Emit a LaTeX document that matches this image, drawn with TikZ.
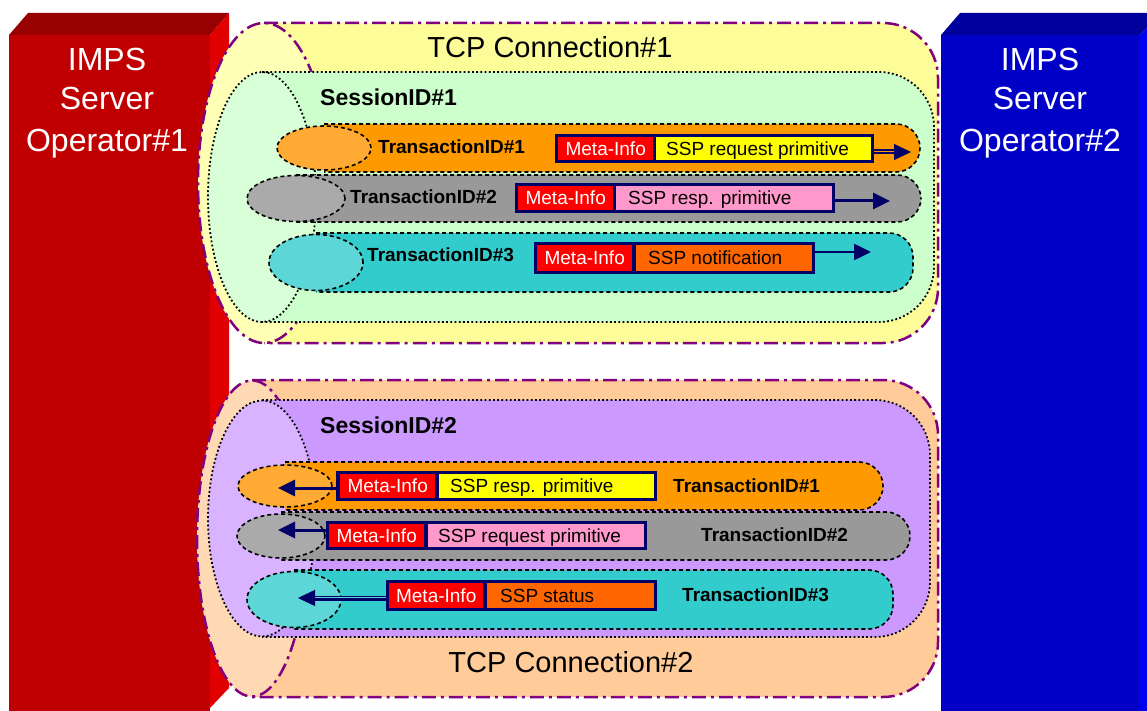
\documentclass[tikz,border=0pt]{standalone}
\usepackage{fontspec}
\setmainfont{Liberation Sans}
\usetikzlibrary{arrows.meta}

% server blocks
\definecolor{srvredfront}{HTML}{C00000}
\definecolor{srvredtop}{HTML}{990000}
\definecolor{srvredside}{HTML}{E00000}
\definecolor{srvbluefront}{HTML}{0000C6}
\definecolor{srvbluetop}{HTML}{00009C}
\definecolor{srvblueside}{HTML}{0000F0}
% connections, sessions, transactions
\definecolor{tcppurple}{HTML}{800080}
\definecolor{tcpyellow}{HTML}{FCFC99}
\definecolor{tcpyellowend}{HTML}{FFFFB5}
\definecolor{tcppeach}{HTML}{FFCC99}
\definecolor{tcppeachend}{HTML}{FFD9B3}
\definecolor{sessgreen}{HTML}{CCFFCC}
\definecolor{sessgreenend}{HTML}{D9FFD9}
\definecolor{sesslilac}{HTML}{CC99FF}
\definecolor{sesslilacend}{HTML}{D9B3FF}
\definecolor{trorange}{HTML}{FF9900}
\definecolor{trorangeend}{HTML}{FFAA33}
\definecolor{trgray}{HTML}{999999}
\definecolor{trgrayend}{HTML}{AAAAAA}
\definecolor{trteal}{HTML}{33CCCC}
\definecolor{trtealend}{HTML}{5CD6D6}
% messages
\definecolor{msgnavy}{HTML}{000066}
\definecolor{msgred}{HTML}{FF0000}
\definecolor{msgyellow}{HTML}{FFFF00}
\definecolor{msgpink}{HTML}{FF99CC}
\definecolor{msgorange}{HTML}{FF6600}

\newcommand\fServer{\fontsize{32}{38}\selectfont}
\newcommand\fTcp{\fontsize{29}{34}\selectfont}
\newcommand\fSess{\fontsize{23}{27}\selectfont\bfseries}
\newcommand\fTrans{\fontsize{19}{22}\selectfont\bfseries}
\newcommand\fMsg{\fontsize{19}{22}\selectfont}

% pipe with an elliptic end on the left and a rounded right end
% #1 kind, #2 body colour, #3 end colour, #4 axis x, #5 top, #6 bottom,
% #7 right edge, #8 end x radius, #9 end y radius
\newcommand\drawpipe[9]{%
  \fill[#2] (#4,#5) [#1 corner] -- (#7,#5) -- (#7,#6) [sharp corners] -- (#4,#6) -- cycle;
  \fill[#3] (#4,{(#5+#6)/2}) ellipse [x radius=#8pt, y radius=#9pt];
  \draw[#1 line] (#4,#5) [#1 corner] -- (#7,#5) -- (#7,#6) [sharp corners] -- (#4,#6);
  \draw[#1 line] (#4,{(#5+#6)/2}) ellipse [x radius=#8pt, y radius=#9pt];
}

\begin{document}
\begin{tikzpicture}[x=1pt,y=-1pt,
  tcp corner/.style={rounded corners=55pt},
  sess corner/.style={rounded corners=55pt},
  trans corner/.style={rounded corners=24pt},
  tcp line/.style={draw=tcppurple, line width=2.5pt, dash pattern=on 14pt off 5pt on 3pt off 5pt},
  sess line/.style={draw=black, line width=1.8pt, dash pattern=on 1.8pt off 2.4pt},
  trans line/.style={draw=black, line width=1.6pt, dash pattern=on 4pt off 3pt},
  msgframe/.style={fill=msgnavy, inner sep=0pt},
  metafill/.style={fill=msgred, inner sep=0pt, anchor=west},
  partfill/.style={inner sep=0pt, anchor=west},
  metatext/.style={text=white, font=\fMsg, inner sep=0pt},
  parttext/.style={text=black, font=\fMsg, inner sep=0pt, anchor=base west},
  serverlabel/.style={text=white, font=\fServer, inner sep=0pt, anchor=base},
  tcplabel/.style={text=black, font=\fTcp, inner sep=0pt, anchor=base},
  sesslabel/.style={text=black, font=\fSess, inner sep=0pt, anchor=base west},
  translabel/.style={text=black, font=\fTrans, inner sep=0pt, anchor=west},
  shaft/.style={draw=msgnavy, line width=3pt, -{Triangle[length=17pt,width=16pt]}},
  dshaft/.style={draw=msgnavy, line width=1.5pt, double distance=2pt},
  tiponly/.style={draw=msgnavy, line width=0.4pt, -{Triangle[length=17pt,width=16pt]}},
]
\useasboundingbox (0,0) rectangle (1147,711);
\fill[white] (0,0) rectangle (1147,711);

% ---- server blocks ----
\fill[srvredfront] (9,35) -- (210,35) -- (210,711) -- (9,711) -- cycle;
\fill[srvredtop] (9,35) -- (28,13) -- (229,13) -- (210,35) -- cycle;
\fill[srvredside] (210,35) -- (229,13) -- (229,688) -- (210,708) -- cycle;

\fill[srvbluefront] (941,35) -- (1140,35) -- (1140,711) -- (941,711) -- cycle;
\fill[srvbluetop] (941,35) -- (960,13) -- (1147,13) -- (1147,28) -- (1140,35) -- cycle;
\fill[srvblueside] (1140,35) -- (1147,28) -- (1147,711) -- (1140,711) -- cycle;

\node[serverlabel] (srvAa) at (107,71) {IMPS};
\node[serverlabel] (srvAb) at (107,110) {Server};
\node[serverlabel] (srvAc) at (107,152) {Operator\#1};
\node[serverlabel] (srvBa) at (1040,71) {IMPS};
\node[serverlabel] (srvBb) at (1040,110) {Server};
\node[serverlabel] (srvBc) at (1040,152) {Operator\#2};

% ---- TCP connection 1 ----
\drawpipe{tcp}{tcpyellow}{tcpyellowend}{264}{23}{343}{938}{66}{160}
\drawpipe{sess}{sessgreen}{sessgreenend}{262}{72}{322}{934}{54}{125}
\drawpipe{trans}{trorange}{trorangeend}{324}{124}{172}{920}{47}{22}
\drawpipe{trans}{trgray}{trgrayend}{296}{175}{222}{921}{49}{23}
\drawpipe{trans}{trteal}{trtealend}{316}{233}{292}{913}{47}{28}

\node[tcplabel] (tcpA) at (550,58) {TCP Connection\#1};
\node[sesslabel] (sessA) at (320,106) {SessionID\#1};
\node[translabel] (trA1) at (378,147) {TransactionID\#1};
\node[translabel] (trA2) at (350,197) {TransactionID\#2};
\node[translabel] (trA3) at (367,255) {TransactionID\#3};

% request primitive
\node[msgframe, minimum width=319pt, minimum height=29pt] (mfA1) at (714.5,148.5) {};
\node[metafill, minimum width=95pt, minimum height=23pt] (mmA1) at (558,148.5) {};
\node[partfill, fill=msgyellow, minimum width=215pt, minimum height=23pt] (mpA1) at (656,148.5) {};
\node[metatext] (mtA1) at (mmA1.center) {Meta-Info};
\node[parttext] (ptA1) at ([xshift=10pt,yshift=-6.8pt]mpA1.west) {SSP request primitive};
\coordinate (tipA1) at (911,152);
\coordinate (hbA1) at (895,152);
\draw[dshaft, double=trorange] (mfA1.east |- tipA1) -- (hbA1);
\draw[tiponly] (mfA1.east |- tipA1) -- (tipA1);

% response primitive
\node[msgframe, minimum width=320pt, minimum height=30pt] (mfA2) at (675,198) {};
\node[metafill, minimum width=95pt, minimum height=24pt] (mmA2) at (518,198) {};
\node[partfill, fill=msgpink, minimum width=216pt, minimum height=24pt] (mpA2) at (616,198) {};
\node[metatext] (mtA2) at (mmA2.center) {Meta-Info};
\node[parttext] (ptA2) at ([xshift=12pt,yshift=-6.8pt]mpA2.west) {SSP resp. primitive};
\coordinate (tipA2) at (890,201);
\draw[shaft] (mfA2.east |- tipA2) -- (tipA2);

% notification
\node[msgframe, minimum width=281pt, minimum height=32pt] (mfA3) at (674.5,258) {};
\node[metafill, minimum width=95pt, minimum height=26pt] (mmA3) at (537,258) {};
\node[partfill, fill=msgorange, minimum width=176pt, minimum height=26pt] (mpA3) at (636,258) {};
\node[metatext] (mtA3) at (mmA3.center) {Meta-Info};
\node[parttext] (ptA3) at ([xshift=12pt,yshift=-6.8pt]mpA3.west) {SSP notification};
\coordinate (tipA3) at (871,252);
\draw[shaft, line width=2.5pt] (mfA3.east |- tipA3) -- (tipA3);

% ---- TCP connection 2 ----
\drawpipe{tcp}{tcppeach}{tcppeachend}{252}{380}{697}{938}{55}{158}
\drawpipe{sess}{sesslilac}{sesslilacend}{262}{400}{637}{930}{54}{118}
\drawpipe{trans}{trorange}{trorangeend}{285}{462}{510}{883}{47}{21}
\drawpipe{trans}{trgray}{trgrayend}{281}{512}{560}{910}{44}{22}
\drawpipe{trans}{trteal}{trtealend}{294}{570}{629}{893}{47}{28}

\node[tcplabel] (tcpB) at (571,672) {TCP Connection\#2};
\node[sesslabel] (sessB) at (320,433) {SessionID\#2};
\node[translabel] (trB1) at (673,486) {TransactionID\#1};
\node[translabel] (trB2) at (701,535) {TransactionID\#2};
\node[translabel] (trB3) at (682,595) {TransactionID\#3};

% response primitive
\node[msgframe, minimum width=321pt, minimum height=30pt] (mfB1) at (496.5,486) {};
\node[metafill, minimum width=95pt, minimum height=24pt] (mmB1) at (340,486) {};
\node[partfill, fill=msgyellow, minimum width=215pt, minimum height=24pt] (mpB1) at (439,486) {};
\node[metatext] (mtB1) at (mmB1.center) {Meta-Info};
\node[parttext] (ptB1) at ([xshift=11pt,yshift=-6.8pt]mpB1.west) {SSP resp. primitive};
\coordinate (tipB1) at (278,488);
\draw[shaft] (mfB1.west |- tipB1) -- (tipB1);

% request primitive
\node[msgframe, minimum width=321pt, minimum height=29pt] (mfB2) at (486.5,535.5) {};
\node[metafill, minimum width=95pt, minimum height=23pt] (mmB2) at (329,535.5) {};
\node[partfill, fill=msgpink, minimum width=216pt, minimum height=23pt] (mpB2) at (428,535.5) {};
\node[metatext] (mtB2) at (mmB2.center) {Meta-Info};
\node[parttext] (ptB2) at ([xshift=10pt,yshift=-6.8pt]mpB2.west) {SSP request primitive};
\coordinate (tipB2) at (278,530);
\draw[shaft] (mfB2.west |- tipB2) -- (tipB2);

% status
\node[msgframe, minimum width=271pt, minimum height=31pt] (mfB3) at (521.5,595.5) {};
\node[metafill, minimum width=94pt, minimum height=25pt] (mmB3) at (389,595.5) {};
\node[partfill, fill=msgorange, minimum width=167pt, minimum height=25pt] (mpB3) at (487,595.5) {};
\node[metatext] (mtB3) at (mmB3.center) {Meta-Info};
\node[parttext] (ptB3) at ([xshift=13pt,yshift=-6.8pt]mpB3.west) {SSP status};
\coordinate (tipB3) at (298,598);
\coordinate (hbB3) at (314,598);
\draw[dshaft, double=trtealend] (mfB3.west |- tipB3) -- (hbB3);
\draw[tiponly] (mfB3.west |- tipB3) -- (tipB3);
\end{tikzpicture}
\end{document}
